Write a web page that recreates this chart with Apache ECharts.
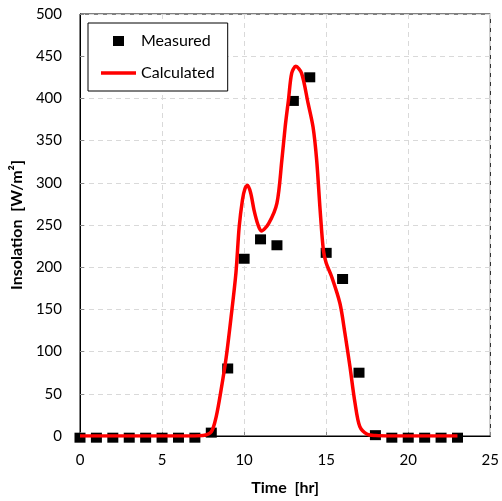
<!DOCTYPE html>
<html><head><meta charset="utf-8">
<script src="https://cdn.jsdelivr.net/npm/echarts@6/dist/echarts.min.js"></script>
<style>html,body{margin:0;padding:0;background:#fff}#c{width:502px;height:501px}</style>
</head><body><div id="c"></div>
<script>
var measuredHours = [0,1,2,3,4,5,6,7,8,9,10,11,12,13,14,15,16,17,18,19,20,21,22,23];
var measuredValues = [-2,-2,-2,-2,-2,-2,-2,-2,4,80,210,233,226,397,425,217,186,75,1,-2,-2,-2,-2,-2];
var calcHours = [0,1,2,3,4,5,6,7,7.5,8,8.3,8.6,8.9,9.2,9.5,9.7,9.9,10.05,10.2,10.4,10.6,10.85,11.05,11.5,12.0,12.3,12.5,12.7,12.9,13.15,13.5,13.9,14.2,14.42,14.63,14.83,15.0,15.33,15.84,16.14,16.45,16.75,17.05,17.5,18,19,20,21,22,23];
var calcValues = [0,0,0,0,0,0,0,0,0.5,5,23,55,92,140,193,248,280,293,297,288,268,250,243,252,276,327,366,398,430,438,430,394,366,327,268,220,205,189,157,122,82,40,11,2,0.5,0,0,0,0,0];
var xTicks = {min:0, max:25, interval:5};
var yTicks = {min:0, max:500, interval:50};

var chart = echarts.init(document.getElementById('c'));
var font = 'Lato';
chart.setOption({
  animation: false,
  backgroundColor: '#fff',
  grid: {left: 80, right: 8, top: 14, bottom: 65, show: true, borderColor: '#000', borderWidth: 1, backgroundColor: 'transparent'},
  legend: {
    orient: 'vertical', left: 88, top: 23,
    padding: [8, 13, 8, 13], itemGap: 12,
    itemWidth: 35, itemHeight: 10,
    borderColor: '#000', borderWidth: 1, backgroundColor: '#fff',
    textStyle: {fontFamily: font, fontSize: 16, color: '#000', lineHeight: 20},
    data: [
      {name: 'Measured', icon: 'path://M0,5L35,5Z M12,0h11v10h-11Z', itemStyle: {color: '#000', opacity: 1}},
      {name: 'Calculated', icon: 'path://M0,0L35,0Z M0,3.25h35v3.5h-35Z M0,10L35,10Z', itemStyle: {color: '#ff0000', borderWidth: 0}}
    ]
  },
  xAxis: {
    type: 'value', min: xTicks.min, max: xTicks.max, interval: xTicks.interval,
    name: 'Time  [hr]', nameLocation: 'middle', nameGap: 44,
    nameTextStyle: {fontFamily: font, fontSize: 16, fontWeight: 'bold', color: '#000'},
    axisLine: {show: true, lineStyle: {color: '#000'}},
    axisTick: {show: true, inside: true, length: 4, lineStyle: {color: '#888'}},
    axisLabel: {fontFamily: font, fontSize: 15, color: '#000', margin: 17},
    splitLine: {show: true, lineStyle: {color: '#d9d9d9', type: [5, 4]}}
  },
  yAxis: {
    type: 'value', min: yTicks.min, max: yTicks.max, interval: yTicks.interval,
    name: 'Insolation  [W/m\u00b2]', nameLocation: 'middle', nameGap: 54,
    nameTextStyle: {fontFamily: font, fontSize: 16, fontWeight: 'bold', color: '#000'},
    axisLine: {show: true, lineStyle: {color: '#000'}},
    axisTick: {show: true, inside: true, length: 4, lineStyle: {color: '#888'}},
    axisLabel: {fontFamily: font, fontSize: 15, color: '#000', margin: 18},
    splitLine: {show: true, lineStyle: {color: '#d9d9d9', type: [5, 4]}}
  },
  series: [
    {
      name: 'Measured', type: 'scatter', symbol: 'rect', symbolSize: [11, 10],
      itemStyle: {color: '#000', opacity: 1}, clip: false, z: 2,
      data: measuredHours.map(function(h, i){ return [h, measuredValues[i]]; })
    },
    {
      name: 'Calculated', type: 'line', smooth: 0.3, symbol: 'none', showSymbol: false,
      lineStyle: {color: '#ff0000', width: 3.5}, itemStyle: {color: '#ff0000'}, z: 3,
      data: calcHours.map(function(h, i){ return [h, calcValues[i]]; })
    }
  ]
});
</script></body></html>
